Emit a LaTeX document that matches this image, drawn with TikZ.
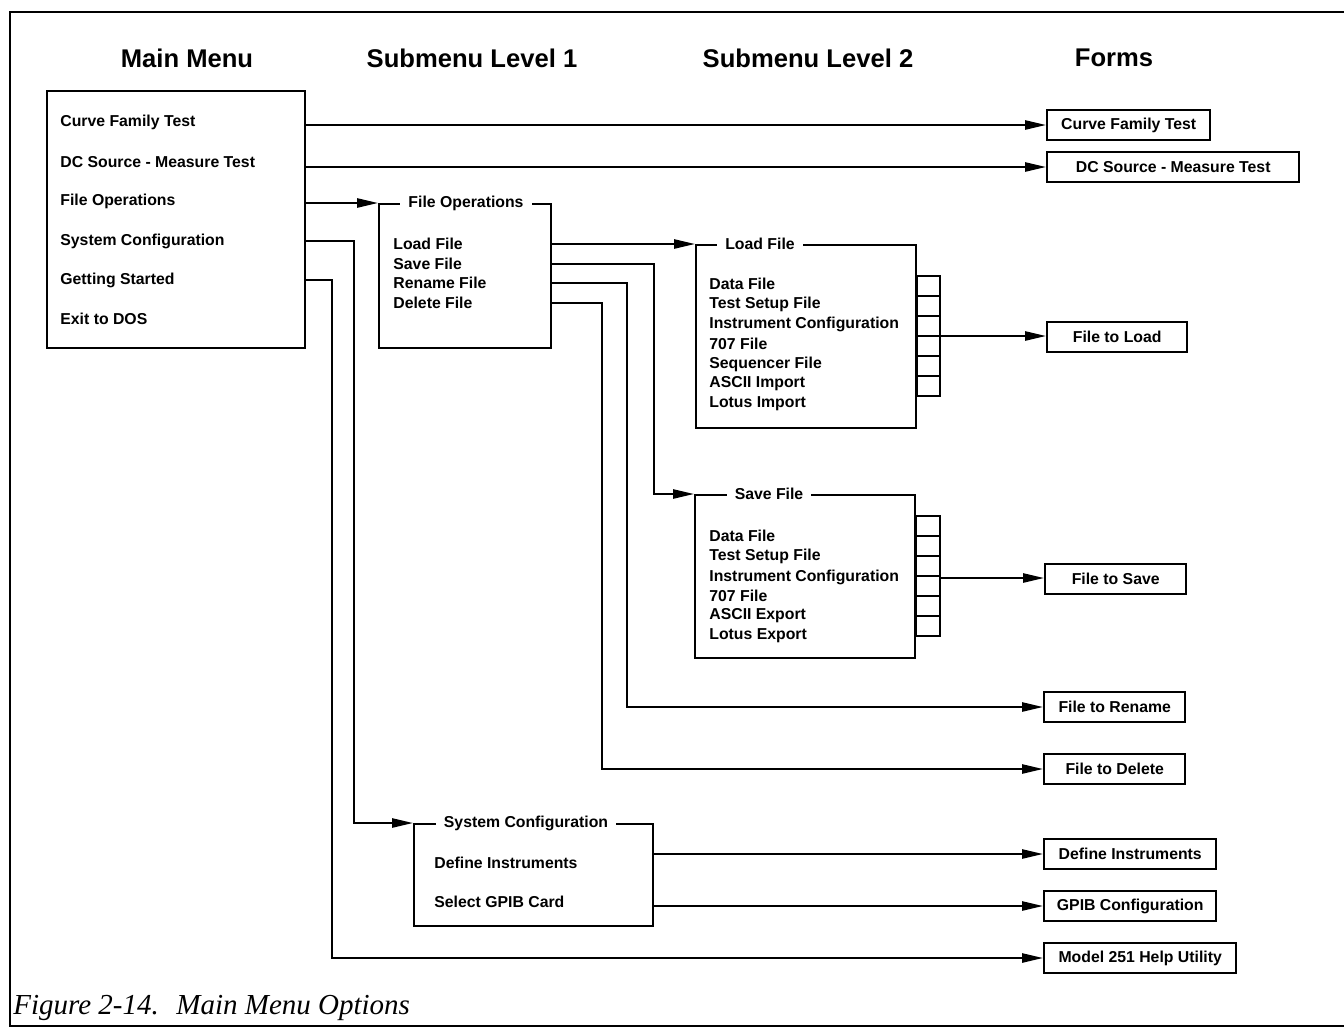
\documentclass[tikz,border=0pt]{standalone}
\usepackage{fontspec}
\setmainfont{Liberation Sans}
\newfontfamily\capfont{Liberation Serif}
\usetikzlibrary{arrows.meta,calc}
\begin{document}
\begin{tikzpicture}[x=0.5pt,y=-0.5pt,
  line/.style={line width=1pt},
  arr/.style={line width=1pt,-{Triangle[length=10.5pt,width=4.6pt]}},
  frame/.style={line width=1.3pt},
  menubox/.style={draw,line width=1.2pt,anchor=north west,inner sep=0pt},
  hdr/.style={font=\fontsize{12.8}{14}\selectfont\bfseries},
  item/.style={font=\fontsize{7.9}{9}\selectfont\bfseries,anchor=west,inner sep=0pt},
  boxtitle/.style={fill=white,inner xsep=4pt,inner ysep=1pt,font=\fontsize{7.9}{9}\selectfont\bfseries},
  form/.style={draw,line width=1.2pt,anchor=west,minimum height=15pt,inner sep=1pt,font=\fontsize{7.9}{9}\selectfont\bfseries},
  captext/.style={anchor=base west,inner sep=0pt,font=\capfont\itshape\fontsize{14.5}{16}\selectfont}]
\useasboundingbox (0,0) rectangle (1344,1029);
% outer frame
\draw[frame] (1344,12) -- (10,12) -- (10,1026) -- (1344,1026);
% headers
\node[hdr] (h1) at (187,58) {Main Menu};
\node[hdr] (h2) at (472,58) {Submenu Level 1};
\node[hdr] (h3) at (808,58) {Submenu Level 2};
\node[hdr] (h4) at (1114,58) {Forms};
% main menu
\node[menubox,minimum width=129pt,minimum height=128.5pt] (main) at (46,90) {};
\node[item] (mm1) at (60,122) {Curve Family Test};
\node[item] (mm2) at (60,162) {DC Source - Measure Test};
\node[item] (mm3) at (60,201) {File Operations};
\node[item] (mm4) at (60,241) {System Configuration};
\node[item] (mm5) at (60,280) {Getting Started};
\node[item] (mm6) at (60,319) {Exit to DOS};
% forms
\node[form,minimum width=81.5pt] (fcft) at (1046,125) {Curve Family Test};
\node[form,minimum width=126pt] (fdc) at (1046,167) {DC Source - Measure Test};
\node[form,minimum width=70pt] (fload) at (1046,337) {File to Load};
\node[form,minimum width=70.5pt] (fsave) at (1044,579) {File to Save};
\node[form,minimum width=70.5pt] (fren) at (1043,707) {File to Rename};
\node[form,minimum width=70.5pt] (fdel) at (1043,769) {File to Delete};
\node[form,minimum width=86pt] (fdef) at (1043,854) {Define Instruments};
\node[form,minimum width=86pt] (fgpib) at (1043,906) {GPIB Configuration};
\node[form,minimum width=96pt] (fhelp) at (1043,958) {Model 251 Help Utility};
% file operations box
\node[menubox,minimum width=86pt,minimum height=72pt] (fops) at (378,203) {};
\node[boxtitle] (fopst) at (466,203) {File Operations};
\node[item] (lf1) at (393,244) {Load File};
\node[item] (lf2) at (393,264) {Save File};
\node[item] (lf3) at (393,283) {Rename File};
\node[item] (lf4) at (393,303) {Delete File};
% load file box
\node[menubox,minimum width=110pt,minimum height=91.5pt] (lbox) at (695,244) {};
\node[boxtitle] (lboxt) at (760,244) {Load File};
\node[item] (l1) at (709,284) {Data File};
\node[item] (l2) at (709,304) {Test Setup File};
\node[item] (l3) at (709,324) {Instrument Configuration};
\node[item] (l4) at (709,344) {707 File};
\node[item] (l5) at (709,364) {Sequencer File};
\node[item] (l6) at (709,384) {ASCII Import};
\node[item] (l7) at (709,404) {Lotus Import};
\draw[line] (lbox.east |- 0,276) rectangle (940,396);
\foreach \yy in {296,316,336,356,376} \draw[line] (lbox.east |- 0,\yy) -- (940,\yy);
\coordinate (lcell) at (940,336);
% save file box
\node[menubox,minimum width=110pt,minimum height=81.5pt] (sbox) at (694,494) {};
\node[boxtitle] (sboxt) at (769,494) {Save File};
\node[item] (s1) at (709,536) {Data File};
\node[item] (s2) at (709,556) {Test Setup File};
\node[item] (s3) at (709,577) {Instrument Configuration};
\node[item] (s4) at (709,596) {707 File};
\node[item] (s5) at (709,616) {ASCII Export};
\node[item] (s6) at (709,636) {Lotus Export};
\draw[line] (sbox.east |- 0,516) rectangle (940,636);
\foreach \yy in {536,556,576,596,616} \draw[line] (sbox.east |- 0,\yy) -- (940,\yy);
\coordinate (scell) at (940,578);
% system configuration box
\node[menubox,minimum width=119.5pt,minimum height=51pt] (sys) at (413,823) {};
\node[boxtitle] (syst) at (526,823) {System Configuration};
\node[item] (sc1) at (434,863) {Define Instruments};
\node[item] (sc2) at (434,902) {Select GPIB Card};
% connectors from main menu
\draw[arr] (main.east |- fcft.west) -- (fcft.west);
\draw[arr] (main.east |- fdc.west) -- (fdc.west);
\draw[arr] (main.east |- fops.north west) -- (fops.north west);
\draw[arr] (main.east |- mm4) -- ++(24pt,0) |- (sys.north west);
\draw[arr] (main.east |- mm5) -- ++(13pt,0) |- (fhelp.west);
% connectors from file operations
\draw[arr] (fops.east |- lbox.north west) -- (lbox.north west);
\draw[arr] (fops.east |- lf2) -- ++(51pt,0) |- (sbox.north west);
\draw[arr] (fops.east |- lf3) -- ++(37.5pt,0) |- (fren.west);
\draw[arr] (fops.east |- lf4) -- ++(25pt,0) |- (fdel.west);
% connectors from level 2
\draw[arr] (lcell) -- (lcell -| fload.west);
\draw[arr] (scell) -- (scell -| fsave.west);
% system configuration connectors
\draw[arr] (sys.east |- fdef.west) -- (fdef.west);
\draw[arr] (sys.east |- fgpib.west) -- (fgpib.west);
% caption
\node[captext] (cap1) at (13,1014) {Figure 2-14.};
\node[captext] (cap2) at (176,1014) {Main Menu Options};
\end{tikzpicture}
\end{document}
